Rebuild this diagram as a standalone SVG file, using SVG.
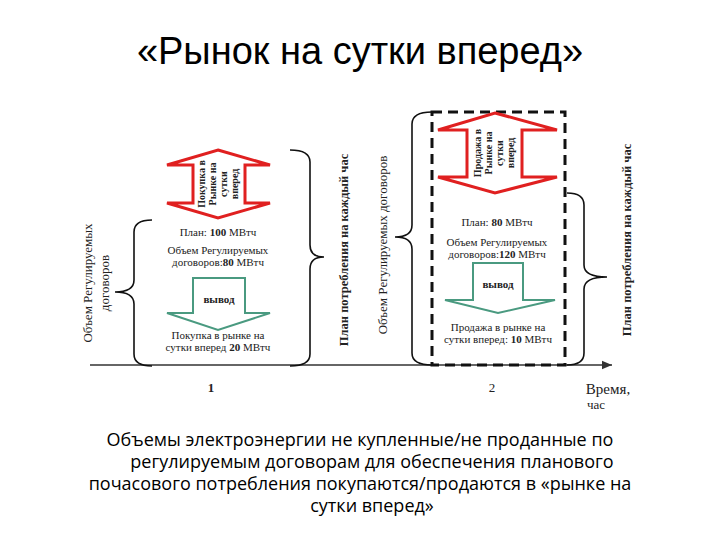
<svg xmlns="http://www.w3.org/2000/svg" width="720" height="540" viewBox="0 0 720 540">
<style>
.t{font-family:"Liberation Serif",serif;fill:#222;text-anchor:middle}
.s{font-size:11px}
.b{font-weight:bold}
.br{fill:none;stroke:#111;stroke-width:1.6}
.red{fill:#fff;stroke:#e02020;stroke-width:3}
.grn{fill:#fff;stroke:#4a9a80;stroke-width:2}
</style>
<defs><marker id="ah" markerWidth="8" markerHeight="8" refX="7" refY="4" orient="auto"><path d="M0,1 L7,4 L0,7" fill="#333"/></marker></defs>
<rect width="720" height="540" fill="#fff"/>
<text x="360" y="64" style="font-family:'Liberation Sans','Open Sans',sans-serif;font-size:38px;text-anchor:middle;fill:#000">«Рынок на сутки вперед»</text>
<g id="connectors">
<line x1="90" y1="365" x2="612" y2="365" stroke="#333" stroke-width="1.5" marker-end="url(#ah)"/>
<path class="br" d="M152,220 Q134,220 134,232 L134,280 Q134,292 115,292 Q134,292 134,304 L134,354 Q134,366 152,366"/>
<path class="br" d="M290,150 Q310,150 310,162 L310,245 Q310,257 324,257 Q310,257 310,269 L310,354 Q310,366 290,366"/>
<path class="br" d="M432,112 Q412,112 412,124 L412,225 Q412,237 395,237 Q412,237 412,249 L412,353 Q412,365 432,365"/>
<path class="br" stroke="#777" stroke-width="1" d="M567,193 Q584,193 584,205 L584,265 Q584,277 607,277 Q584,277 584,289 L584,353 Q584,365 567,365"/>
<rect x="432" y="112" width="133" height="253" fill="none" stroke="#111" stroke-width="3" stroke-dasharray="10,6"/>
</g>
<g id="hour1">
<path class="red" d="M218,150 L270,165 L245,165 L245,203 L270,203 L218,218 L167,203 L193,203 L193,165 L167,165 Z"/>
<text class="t b" style="font-size:10px" transform="translate(219,184) rotate(-90)"><tspan x="0" y="-14">Покупка в</tspan><tspan x="0" y="-3">Рынке на</tspan><tspan x="0" y="8">сутки</tspan><tspan x="0" y="19">вперед</tspan></text>
<text class="t s" x="218" y="236">План: <tspan class="b">100</tspan> МВтч</text>
<text class="t s" x="218" y="254">Объем Регулируемых</text>
<text class="t s" x="218" y="266">договоров:<tspan class="b">80</tspan> МВтч</text>
<path class="grn" d="M193,278 L245,278 L245,313 L270,313 L218,330 L167,313 L193,313 Z"/>
<text class="t s b" x="219" y="303">вывод</text>
<text class="t s" x="218" y="339">Покупка в рынке на</text>
<text class="t s" x="218" y="351">сутки вперед <tspan class="b">20</tspan> МВтч</text>
<text class="t" style="font-size:13px" transform="translate(92,283) rotate(-90)"><tspan x="0" y="0">Объем Регулируемых</tspan><tspan x="0" y="17">договоров</tspan></text>
<text class="t b" style="font-size:12.5px" transform="translate(348,250) rotate(-90)">План потребления на каждый час</text>
<text class="t b" style="font-size:13px" x="211" y="392">1</text>
</g>
<g id="hour2">
<path class="red" d="M495,113 L557,130 L522,130 L522,177 L557,177 L495,193 L438,177 L467,177 L467,130 L438,130 Z"/>
<text class="t b" style="font-size:10px" transform="translate(495,153) rotate(-90)"><tspan x="0" y="-14">Продажа в</tspan><tspan x="0" y="-3">Рынке на</tspan><tspan x="0" y="8">сутки</tspan><tspan x="0" y="19">вперед</tspan></text>
<text class="t s" x="497" y="226">План: <tspan class="b">80</tspan> МВтч</text>
<text class="t s" x="497" y="246">Объем Регулируемых</text>
<text class="t s" x="497" y="258">договоров:<tspan class="b">120</tspan> МВтч</text>
<path class="grn" d="M473,263 L523,263 L523,300 L555,300 L498,313 L445,300 L473,300 Z"/>
<text class="t s b" x="498" y="288">вывод</text>
<text class="t s" x="498" y="331">Продажа в рынке на</text>
<text class="t s" x="498" y="343">сутки вперед: <tspan class="b">10</tspan> МВтч</text>
<text class="t" style="font-size:13px" transform="translate(387,245) rotate(-90)">Объем Регулируемых договоров</text>
<text class="t b" style="font-size:12.5px" transform="translate(631,240) rotate(-90)">План потребления на каждый час</text>
<text class="t" style="font-size:13px" x="492" y="392">2</text>
<text class="t" style="font-size:15px" x="608" y="394">Время,</text>
<text class="t" style="font-size:13px" x="596" y="409">час</text>
</g>
<g style="font-family:'Open Sans','Liberation Sans',sans-serif;font-size:18px;text-anchor:middle;fill:#000">
<text x="360" y="446">Объемы электроэнергии не купленные/не проданные по</text>
<text x="372" y="468">регулируемым договорам для обеспечения планового</text>
<text x="360" y="490">почасового потребления покупаются/продаются в «рынке на</text>
<text x="372" y="512">сутки вперед»</text>
</g>
</svg>
